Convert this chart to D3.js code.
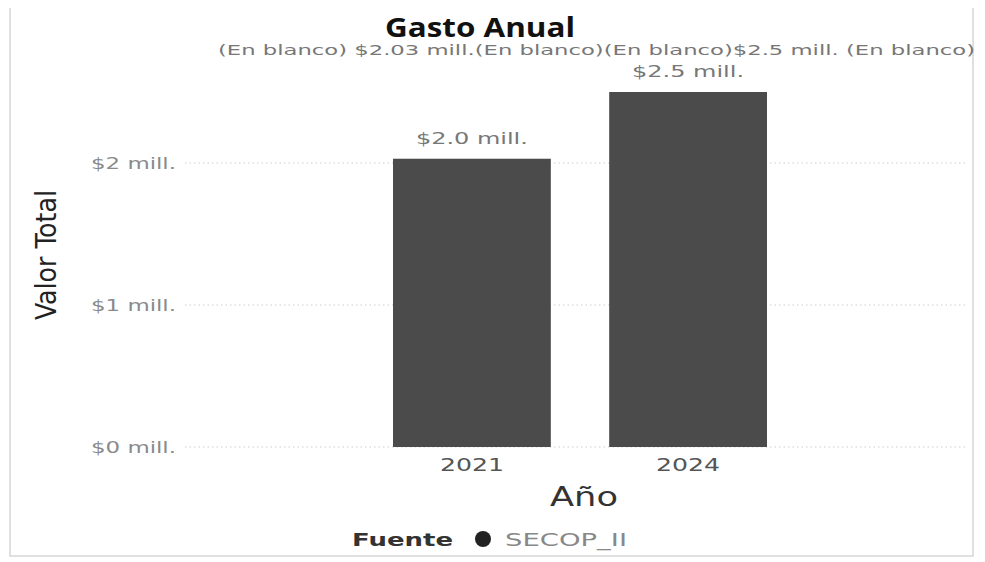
<!DOCTYPE html>
<html>
<head>
<meta charset="utf-8">
<script src="https://cdn.jsdelivr.net/npm/d3@7"></script>
<style>
  body { margin: 0; background: #fff; }
  text { font-family: "DejaVu Sans", "Open Sans", sans-serif; }
</style>
</head>
<body>
<svg id="chart" width="985" height="562"></svg>
<script>
// data
const years = ['2021', '2024'];
const totals = [2.03, 2.5];          // millions
const barLabels = ['$2.0 mill.', '$2.5 mill.'];
const yTicks = [0, 1, 2];
const headerText = '(En blanco) $2.03 mill.(En blanco)(En blanco)$2.5 mill. (En blanco)';
const legendItems = ['SECOP_II'];

const svg = d3.select('#chart');
const width = +svg.attr('width');
const height = +svg.attr('height');

const data = years.map((y, i) => ({year: y, total: totals[i], label: barLabels[i]}));

// frame
svg.append('path')
  .attr('d', 'M10,8 V556 H973 V8')
  .attr('fill', 'none')
  .attr('stroke', '#d6d6d6')
  .attr('stroke-width', 1.5);

const x = d3.scaleBand()
  .domain(years)
  .range([393, 767])
  .paddingInner(0.27)
  .paddingOuter(0);

const y = d3.scaleLinear()
  .domain([0, 3])
  .range([447, 21]);

// gridlines
svg.append('g')
  .selectAll('line').data(yTicks)
  .enter().append('line')
    .attr('x1', 185)
    .attr('x2', 965)
    .attr('y1', d => y(d))
    .attr('y2', d => y(d))
    .attr('stroke', '#cfcfcf')
    .attr('stroke-width', 1.2)
    .attr('stroke-dasharray', '1.5,3');

// y axis
const yAxis = svg.append('g')
  .attr('transform', 'translate(176,0)')
  .call(d3.axisLeft(y).tickValues(yTicks).tickSize(0).tickPadding(0)
    .tickFormat(d => `$${d} mill.`));
yAxis.select('.domain').remove();
yAxis.selectAll('text')
  .attr('textLength', 85)
  .attr('lengthAdjust', 'spacingAndGlyphs')
  .style('font-size', '16px')
  .style('fill', '#8a8a8a');

// bars
svg.selectAll('rect.bar').data(data)
  .enter().append('rect')
    .attr('class', 'bar')
    .attr('x', d => x(d.year))
    .attr('y', d => y(d.total))
    .attr('width', x.bandwidth())
    .attr('height', d => y(0) - y(d.total))
    .attr('fill', '#4b4b4b');

// bar labels
svg.selectAll('.label').data(data)
  .enter().append('text')
    .attr('class', 'label')
    .attr('x', d => x(d.year) + x.bandwidth() / 2)
    .attr('y', d => y(d.total) - 15)
    .attr('text-anchor', 'middle')
    .attr('textLength', 112)
    .attr('lengthAdjust', 'spacingAndGlyphs')
    .style('font-size', '16px')
    .style('fill', '#777')
    .text(d => d.label);

// x axis
const xAxis = svg.append('g')
  .attr('transform', `translate(0,${y(0)})`)
  .call(d3.axisBottom(x).tickSize(0).tickPadding(11));
xAxis.select('.domain').remove();
xAxis.selectAll('text')
  .attr('textLength', 64)
  .attr('lengthAdjust', 'spacingAndGlyphs')
  .style('font-size', '18px')
  .style('fill', '#555');

// title
svg.append('text')
  .attr('x', 480)
  .attr('y', 37)
  .attr('text-anchor', 'middle')
  .attr('textLength', 190)
  .attr('lengthAdjust', 'spacingAndGlyphs')
  .style('font-family', '"Open Sans", sans-serif')
  .style('font-size', '26px')
  .style('font-weight', 'bold')
  .style('fill', '#111')
  .text('Gasto Anual');

// header line of blank labels
svg.append('text')
  .attr('x', 218)
  .attr('y', 55)
  .attr('textLength', 757)
  .attr('lengthAdjust', 'spacingAndGlyphs')
  .style('font-size', '14px')
  .style('fill', '#777')
  .text(headerText);

// axis titles
svg.append('text')
  .attr('transform', 'translate(56,255) rotate(-90)')
  .attr('text-anchor', 'middle')
  .attr('textLength', 130)
  .attr('lengthAdjust', 'spacingAndGlyphs')
  .style('font-family', '"Liberation Sans Narrow", "DejaVu Sans Condensed", sans-serif')
  .style('font-size', '28px')
  .style('fill', '#222')
  .text('Valor Total');

svg.append('text')
  .attr('x', 584)
  .attr('y', 506)
  .attr('text-anchor', 'middle')
  .attr('textLength', 68)
  .attr('lengthAdjust', 'spacingAndGlyphs')
  .style('font-size', '26px')
  .style('fill', '#333')
  .text('Año');

// legend
const legend = svg.append('g').attr('transform', 'translate(352,546)');
legend.append('text')
  .attr('textLength', 101)
  .attr('lengthAdjust', 'spacingAndGlyphs')
  .style('font-size', '18px')
  .style('font-weight', 'bold')
  .style('fill', '#333')
  .text('Fuente');
legend.selectAll('circle').data(legendItems)
  .enter().append('circle')
    .attr('cx', 131)
    .attr('cy', -7)
    .attr('r', 8)
    .attr('fill', '#222');
legend.selectAll('.leg').data(legendItems)
  .enter().append('text')
    .attr('class', 'leg')
    .attr('x', 153)
    .attr('textLength', 122)
    .attr('lengthAdjust', 'spacingAndGlyphs')
    .style('font-size', '18px')
    .style('fill', '#888')
    .text(d => d);
</script>
</body>
</html>
